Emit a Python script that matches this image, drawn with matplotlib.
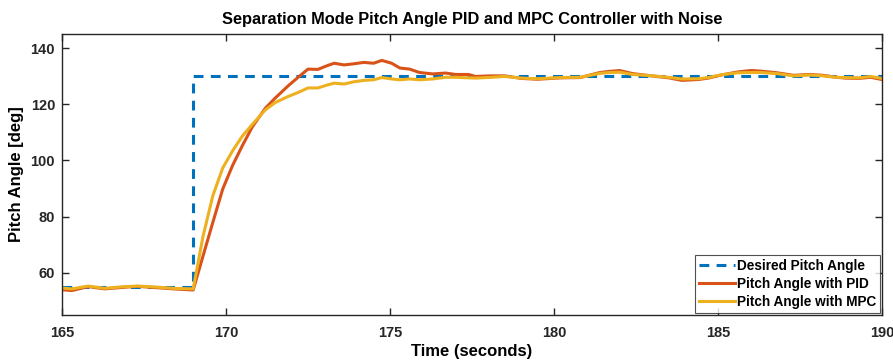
import matplotlib.pyplot as plt

plt.rcParams['font.family'] = ['Liberation Sans', 'DejaVu Sans']
plt.rcParams['font.weight'] = 'bold'

# Reference (step) signal
t_desired = [165.0, 169.0, 169.0, 190.0]
desired = [55.0, 55.0, 130.0, 130.0]

# Sampled response times (seconds)
t = [165.0, 165.3, 165.8, 166.3, 166.8, 167.3, 167.8, 168.4, 169.0, 169.3,
     169.6, 169.9, 170.2, 170.5, 170.8, 171.2, 171.5, 171.9, 172.2, 172.5,
     172.8, 173.1, 173.3, 173.6, 173.9, 174.2, 174.5, 174.75, 175.05, 175.3,
     175.6, 175.9, 176.3, 176.7, 177.0, 177.4, 177.6, 178.1, 178.5, 179.0,
     179.5, 180.2, 180.8, 181.4, 181.7, 182.0, 182.4, 182.9, 183.2, 183.5,
     183.9, 184.4, 184.7, 185.1, 185.6, 186.0, 186.3, 186.8, 187.3, 187.8,
     188.2, 188.6, 188.9, 189.3, 189.65, 190.0]

pid = [54.0, 53.7, 55.1, 54.3, 54.8, 55.2, 54.8, 54.3, 53.9, 66.0,
       78.0, 89.8, 98.2, 105.3, 111.9, 118.6, 122.2, 126.6, 129.6, 132.5,
       132.4, 133.8, 134.6, 134.0, 134.4, 134.9, 134.6, 135.6, 134.6, 132.9,
       132.5, 131.3, 130.8, 131.1, 130.6, 130.6, 129.9, 130.1, 130.1, 129.2,
       128.9, 129.4, 129.5, 131.3, 131.7, 132.0, 130.9, 130.2, 129.8, 129.4,
       128.5, 128.8, 129.3, 130.4, 131.5, 132.0, 131.8, 131.2, 130.3, 130.6,
       130.3, 129.6, 129.3, 129.2, 129.6, 128.8]

mpc = [54.6, 54.3, 55.3, 54.5, 55.0, 55.3, 55.0, 54.5, 54.3, 73.0,
       87.5, 97.3, 103.4, 108.7, 112.8, 118.0, 120.6, 122.8, 124.2, 125.8,
       125.8, 126.9, 127.5, 127.2, 128.0, 128.5, 128.7, 129.5, 129.0, 128.7,
       129.0, 128.7, 129.0, 129.6, 129.6, 129.4, 129.3, 129.6, 129.9, 129.3,
       129.1, 129.5, 129.6, 131.0, 131.3, 131.4, 130.6, 130.2, 129.9, 129.6,
       129.0, 129.1, 129.5, 130.5, 131.2, 131.3, 131.3, 130.9, 130.1, 130.4,
       130.1, 129.6, 129.5, 129.4, 129.9, 129.2]

fig = plt.figure(figsize=(8.93, 3.61), dpi=100)
ax = fig.add_axes([0.0694, 0.1274, 0.9183, 0.7784])

ax.plot(t_desired, desired, color='#0072BD', lw=2.2, linestyle=(0, (3.2, 2.4)),
        label='Desired Pitch Angle')
ax.plot(t, pid, color='#D95319', lw=2.2, label='Pitch Angle with PID')
ax.plot(t, mpc, color='#EDB120', lw=2.2, label='Pitch Angle with MPC')

ax.set_xlim(165, 190)
ax.set_ylim(45, 145)
ax.set_xticks([165, 170, 175, 180, 185, 190])
ax.set_yticks([60, 80, 100, 120, 140])
ax.tick_params(direction='in', top=True, right=True, labelsize=10.5,
               length=5, width=1, colors='#262626')
ax.tick_params(axis='x', pad=8)
ax.tick_params(axis='y', pad=5)
for s in ax.spines.values():
    s.set_color('#262626')
    s.set_linewidth(1)

ax.set_title('Separation Mode Pitch Angle PID and MPC Controller with Noise',
             fontsize=11.8, fontweight='bold', pad=7)
ax.set_xlabel('Time (seconds)', fontsize=12, fontweight='bold', labelpad=3)
ax.set_ylabel('Pitch Angle [deg]', fontsize=12, fontweight='bold', labelpad=5)

leg = ax.legend(loc='lower right', fontsize=9.8, frameon=True, fancybox=False,
                borderaxespad=0.15, handlelength=2.6, handletextpad=0.15,
                labelspacing=0.3, borderpad=0.3)
leg.get_frame().set_edgecolor('#262626')
leg.get_frame().set_linewidth(0.8)

fig.savefig('out.png', dpi=100)
